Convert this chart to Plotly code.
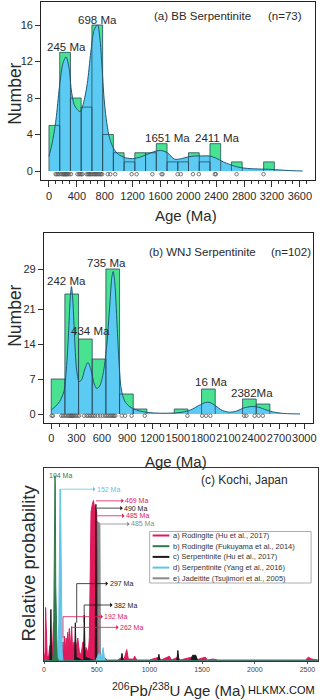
import plotly.graph_objects as go

# ---------------- data: panel (a) BB Serpentinite ----------------
a_bin_width = 154
a_counts = [5, 13, 8, 7, 16, 4, 2, 1, 2, 2, 3, 1, 1, 2, 1, 3, 0, 1, 0, 0, 1]
a_kde_age = [0, 50, 100, 150, 200, 245, 290, 320, 360, 410, 450, 500, 550, 600, 650, 698,
             730, 760, 790, 820, 860, 900, 950, 1000, 1100, 1200, 1300, 1400, 1500, 1600,
             1700, 1800, 1900, 2000, 2100, 2200, 2300, 2400, 2500, 2600, 2700, 2800, 2900,
             3000, 3100, 3200, 3300, 3400, 3500, 3640]
a_kde_val = [1.6, 3.2, 5.6, 9.2, 11.8, 12.5, 11.2, 8.9, 7.3, 6.7, 6.5, 7.6, 9.6, 13.0, 15.5, 16.0,
             14.6, 11.5, 8.0, 5.8, 3.9, 2.9, 2.2, 1.8, 1.45, 1.35, 1.5, 1.8, 2.1, 2.25,
             2.0, 1.3, 1.35, 1.55, 1.65, 1.65, 1.65, 1.4, 1.0, 0.7, 0.45, 0.32, 0.25,
             0.22, 0.2, 0.17, 0.12, 0.07, 0.03, 0.0]
a_ages = [95, 110, 130, 150, 175, 197, 210, 221, 233, 245, 256, 268, 290, 315, 409, 430, 447,
          465, 480, 541, 560, 574, 590, 607, 625, 645, 660, 675, 692, 710, 729, 745, 762, 842,
          880, 951, 1186, 1257, 1483, 1615, 1630, 1845, 1892, 2066, 2151, 2380, 2395, 2692, 3079]
a_peak_ages = [245, 698, 1651, 2411]
a_peak_text = ["245 Ma", "698 Ma", "1651 Ma", "2411 Ma"]
a_xticks = list(range(0, 3601, 400))
a_yticks = [0, 4, 8, 12, 16]

# ---------------- data: panel (b) WNJ Serpentinite ----------------
b_bin_width = 162
b_counts = [7, 24, 15, 11, 29, 4, 1, 0, 0, 1, 0, 5, 0, 0, 3, 2]
b_kde_age = [0, 50, 100, 150, 180, 205, 225, 240, 255, 275, 300, 330, 360, 395, 435, 475, 510,
             540, 575, 620, 660, 695, 720, 735, 755, 780, 805, 830, 870, 920, 980, 1050, 1150,
             1300, 1450, 1550, 1650, 1750, 1830, 1880, 1950, 2030, 2120, 2200, 2280, 2380,
             2460, 2550, 2650, 2750, 2850, 2950]
b_kde_val = [0.8, 1.5, 2.5, 4.5, 9.0, 16.0, 23.0, 25.5, 23.0, 16.0, 9.0, 6.5, 6.8, 8.8, 10.3, 8.6, 6.0,
             5.1, 5.6, 8.5, 14.0, 22.0, 27.5, 28.5, 26.0, 18.0, 10.0, 5.0, 2.6, 1.6, 1.0, 0.6, 0.3,
             0.15, 0.2, 0.35, 0.8, 1.7, 2.3, 2.3, 1.6, 0.7, 0.35, 0.6, 1.2, 1.5,
             1.35, 0.8, 0.35, 0.12, 0.04, 0.0]
b_ages = [5, 20, 120, 140, 160, 180, 200, 215, 230, 240, 250, 260, 275, 290, 310, 330, 390, 420,
          440, 460, 480, 500, 520, 550, 580, 610, 640, 660, 680, 700, 715, 730, 745, 760, 836,
          875, 953, 1109, 1614, 1789, 1836, 1886, 2287, 2314, 2411, 2458, 2508]
b_peak_ages = [242, 735, 434, 1866, 2382]
b_peak_text = ["242 Ma", "735 Ma", "434 Ma", "16 Ma", "2382Ma"]
b_xticks = list(range(0, 3001, 300))
b_yticks = [0, 7, 14, 21, 29]

# ---------------- data: panel (c) Kochi, Japan ----------------
c_names = ["a) Rodingite (Hu et al., 2017)",
           "b) Rodingite (Fukuyama et al., 2014)",
           "c) Serpentinite (Hu et al., 2017)",
           "d) Serpentinite (Yang et al., 2016)",
           "e) Jadeitite (Tsujimori et al., 2005)"]
red_age = [0, 10, 15, 22, 30, 45, 55, 60, 80, 90, 97, 110, 140, 170, 180, 186, 192, 200, 210, 218,
           225, 232, 240, 248, 255, 262, 270, 285, 300, 320, 335, 350, 370, 385, 400, 420, 430,
           440, 446, 458, 469, 480, 490, 500, 505, 512, 520, 560, 600, 700, 740, 760, 785, 800,
           850, 860, 880, 1000, 1090, 1110, 1190, 1210, 1270, 1290, 1400, 1440, 1530, 1550,
           1600, 1650, 2480, 2510, 2540, 2600]
red_val = [0, 0.05, 0.28, 0.05, 0.02, 0.03, 0.08, 0.02, 0.05, 0.2, 0.05, 0.02, 0.01, 0.03, 0.1, 0.03,
           0.13, 0.05, 0.12, 0.06, 0.15, 0.08, 0.17, 0.06, 0.1, 0.18, 0.07, 0.1, 0.05, 0.12, 0.05,
           0.03, 0.1, 0.03, 0.07, 0.04, 0.12, 0.45, 0.78, 0.82, 0.84, 0.8, 0.8, 0.78, 0.3, 0.04,
           0.01, 0.02, 0.005, 0.005, 0.02, 0.01, 0.06, 0.01, 0.01, 0.025, 0.005, 0.005, 0.02,
           0.005, 0.025, 0.005, 0.02, 0.005, 0.02, 0.005, 0.02, 0.005, 0.01, 0.005, 0.005, 0.02,
           0.01, 0.005]
green_age = [0, 80, 90, 97, 101, 104, 107, 111, 118, 125, 140, 2600]
green_val = [0, 0, 0.05, 0.4, 0.9, 0.97, 0.9, 0.4, 0.1, 0.02, 0, 0]
black_age = [0, 55, 60, 65, 70, 75, 290, 297, 305, 375, 382, 390, 486, 489, 492, 495, 499,
             730, 740, 750, 1080, 1090, 1100, 1260, 1270, 1280, 1390, 1410, 1440, 1460, 2600]
black_val = [0, 0, 0.1, 0.27, 0.1, 0, 0, 0.2, 0.02, 0, 0.24, 0.02, 0, 0.5, 0.82, 0.5, 0,
             0, 0.04, 0, 0, 0.035, 0, 0, 0.055, 0, 0, 0.03, 0.03, 0, 0]
blue_age = [0, 130, 140, 146, 152, 158, 164, 172, 180, 490, 520, 545, 560, 575, 590, 2600]
blue_val = [0, 0, 0.2, 0.8, 0.9, 0.8, 0.3, 0.05, 0, 0, 0.04, 0.02, 0.07, 0.01, 0, 0]
gray_age = [0, 498, 504, 530, 536, 2600]
gray_val = [0, 0, 0.73, 0.72, 0, 0]
c_xticks = list(range(0, 2501, 500))

# ---------------- styling ----------------
FONT = "Liberation Sans, Arial, sans-serif"
TXT = "#2a2a2a"
GREEN = "#48e290"
BLUE = "#5ccbf4"
KDE_LINE = "#1e5a78"
OUTLINE = "#2a4a5c"
RED = "#e01a5c"
DGREEN = "#2f7a4a"
BLACK = "#1a1a1a"
LBLUE = "#62c4ea"
GRAY = "#8a8a8a"

W, H = 322, 700


def px(xp):
    return xp / W


def py(yp):
    return 1 - yp / H


fig = go.Figure()


def hist_panel(counts, bw, kde_x, kde_y, ages, xa, ya):
    xs = [bw * (i + 0.5) for i, c in enumerate(counts) if c > 0]
    ys = [c for c in counts if c > 0]
    fig.add_trace(go.Bar(x=xs, y=ys, width=bw, marker=dict(color=GREEN, line=dict(width=0)),
                         xaxis=xa, yaxis=ya, showlegend=False, hoverinfo="skip"))
    fig.add_trace(go.Scatter(x=kde_x, y=kde_y, mode="lines", fill="tozeroy", fillcolor=BLUE,
                             line=dict(color=KDE_LINE, width=1, shape="spline", smoothing=0.8),
                             xaxis=xa, yaxis=ya, showlegend=False, hoverinfo="skip"))
    # bar outlines drawn on top of the density fill
    ox, oy = [], []
    for i, c in enumerate(counts):
        if c <= 0:
            continue
        x0, x1 = bw * i, bw * (i + 1)
        ox += [x0, x0, x1, x1, None]
        oy += [0, c, c, 0, None]
    fig.add_trace(go.Scatter(x=ox, y=oy, mode="lines", line=dict(color=OUTLINE, width=0.8),
                             xaxis=xa, yaxis=ya, showlegend=False, hoverinfo="skip"))
    fig.add_trace(go.Scatter(x=ages, y=[-0.35] * len(ages), mode="markers",
                             marker=dict(symbol="circle-open", size=3.5, color="#555",
                                         line=dict(width=0.8)),
                             xaxis=xa, yaxis=ya, showlegend=False, hoverinfo="skip"))


hist_panel(a_counts, a_bin_width, a_kde_age, a_kde_val, a_ages, "x", "y")
hist_panel(b_counts, b_bin_width, b_kde_age, b_kde_val, b_ages, "x2", "y2")

# panel (c) probability curves
for ages, vals, col in [(gray_age, gray_val, GRAY), (red_age, red_val, RED),
                        (black_age, black_val, BLACK), (blue_age, blue_val, LBLUE),
                        (green_age, green_val, DGREEN)]:
    fig.add_trace(go.Scatter(x=ages, y=vals, mode="lines", fill="tozeroy", fillcolor=col,
                             line=dict(color=col, width=1), xaxis="x3", yaxis="y3",
                             showlegend=False, hoverinfo="skip"))

axis_common = dict(showline=True, linecolor="#222", linewidth=1.4, mirror=True, showgrid=False,
                   zeroline=False, ticks="outside", tickcolor="#333", tickwidth=1,
                   tickfont=dict(family=FONT, size=11, color=TXT), tickangle=0)

layout = dict(
    width=W, height=H, autosize=False, margin=dict(l=0, r=0, t=0, b=0, pad=0),
    paper_bgcolor="white", plot_bgcolor="white", barmode="overlay", showlegend=False,
    font=dict(family=FONT, color=TXT),
    xaxis=dict(domain=[px(40), px(318)], range=[-109, 3818], anchor="y", tickmode="array",
               tickvals=a_xticks, ticklen=6,
               minor=dict(tickvals=list(range(0, 3701, 100)), ticks="outside", ticklen=3,
                          tickcolor="#333"),
               **axis_common),
    yaxis=dict(domain=[py(180), py(2)], range=[-0.986, 18.52], anchor="x", tickmode="array",
               tickvals=a_yticks, ticklen=5, **axis_common),
    xaxis2=dict(domain=[px(42.7), px(316)], range=[-85, 3104], anchor="y2", tickmode="array",
                tickvals=b_xticks, ticklen=5,
                minor=dict(tickvals=list(range(0, 3001, 100)), ticks="outside", ticklen=3,
                           tickcolor="#333"),
                **axis_common),
    yaxis2=dict(domain=[py(422.7), py(233)], range=[-1.74, 36.2], anchor="x2", tickmode="array",
                tickvals=b_yticks, ticklen=5, **axis_common),
    xaxis3=dict(domain=[px(42.7), px(321)], range=[0, 2600], anchor="y3", tickmode="array",
                tickvals=c_xticks, showline=True, linecolor="#333", linewidth=1, mirror=True,
                showgrid=False, zeroline=False, ticks="outside", ticklen=2, tickcolor="#555",
                tickfont=dict(family=FONT, size=7, color="#444"), tickangle=0),
    yaxis3=dict(domain=[py(661), py(468)], range=[0, 1.01], anchor="x3", showticklabels=False,
                showline=True, linecolor="#333", linewidth=1, mirror=True, showgrid=False,
                zeroline=False, ticks=""),
)
fig.update_layout(**layout)

ann = []
shapes = []


def ptext(text, x, y, size, color=TXT, xanchor="center", angle=0):
    ann.append(dict(text=text, x=px(x), y=py(y), xref="paper", yref="paper", showarrow=False,
                    xanchor=xanchor, yanchor="middle", textangle=angle,
                    font=dict(family=FONT, size=size, color=color)))


# axis titles
ptext("Number", 13, 94, 17.5, angle=-90)
ptext("Age (Ma)", 187, 215, 15)
ptext("Number", 13, 316, 17.5, angle=-90)
ptext("Age (Ma)", 177, 461, 15)
ptext("Relative probability", 26, 563, 18.5, angle=-90)
ptext("<sup>206</sup>Pb/<sup>238</sup>U Age (Ma)", 179, 689, 15)
ptext("HLKMX.COM", 284, 690, 11, color="#111")

# panel titles
ptext("(a) BB Serpentinite", 152, 16, 11.5, xanchor="left")
ptext("(n=73)", 307, 16, 11.5, xanchor="right")
ptext("(b) WNJ Serpentinite", 147, 252, 11.5, xanchor="left")
ptext("(n=102)", 316, 252, 11.5, xanchor="right")
ptext("(c) Kochi, Japan", 246, 480, 12)

# peak labels (a)
for t, xv, yv, sh in zip(a_peak_text, a_peak_ages, [13.6, 16.55, 3.6, 3.6], [0, 0, 3.4, 0.6]):
    ann.append(dict(text=t, x=xv, y=yv, xref="x", yref="y", showarrow=False, xshift=sh,
                    yanchor="middle", font=dict(family=FONT, size=11.5, color=TXT)))
# peak labels (b)
for t, xv, yv, sh in zip(b_peak_text, b_peak_ages, [26.7, 30.2, 16.7, 6.5, 4.2],
                         [-4.7, -7, 2.8, 3, 0]):
    ann.append(dict(text=t, x=xv, y=yv, xref="x2", yref="y2", showarrow=False, xshift=sh,
                    yanchor="middle", font=dict(family=FONT, size=11.5, color=TXT)))

# panel (c) peak annotations
ann.append(dict(text="104 Ma", x=152, y=0.97, xref="x3", yref="y3", showarrow=False,
                font=dict(family=FONT, size=7, color=DGREEN)))
c_arrows = [  # text, tail age, prob, text age, color
    ("152 Ma", 158, 0.899, 611, LBLUE),
    ("469 Ma", 492, 0.838, 880, RED),
    ("490 Ma", 500, 0.80, 870, BLACK),
    ("485 Ma", 505, 0.76, 887, RED),
    ("485 Ma", 535, 0.717, 936, GRAY),
    ("297 Ma", 310, 0.405, 731, BLACK),
    ("382 Ma", 381, 0.293, 773, BLACK),
    ("192 Ma", 180, 0.232, 682, RED),
    ("262 Ma", 262, 0.176, 831, RED),
]
for t, tx, pv, lx, col in c_arrows:
    ann.append(dict(text=t, x=tx, y=pv, xref="x3", yref="y3", ax=lx, ay=pv, axref="x3",
                    ayref="y3", showarrow=True, arrowside="start", arrowhead=2, arrowsize=0.7,
                    arrowwidth=0.8, arrowcolor=col, startstandoff=0,
                    font=dict(family=FONT, size=7, color=col)))
# elbow verticals
for xv, y0, y1, col in [(310, 0.2, 0.405, BLACK), (381, 0.2, 0.293, BLACK),
                        (180, 0.12, 0.232, RED), (158, 0.87, 0.899, LBLUE)]:
    shapes.append(dict(type="line", xref="x3", yref="y3", x0=xv, x1=xv, y0=y0, y1=y1,
                       line=dict(color=col, width=0.8)))

# manual legend for panel (c)
shapes.append(dict(type="rect", xref="paper", yref="paper", x0=px(150), x1=px(314),
                   y0=py(583), y1=py(531.5), line=dict(color="#999", width=0.8),
                   fillcolor="white"))
for i, (name, col) in enumerate(zip(c_names, [RED, DGREEN, BLACK, LBLUE, GRAY])):
    yy = 535.5 + i * 10.7
    shapes.append(dict(type="line", xref="paper", yref="paper", x0=px(153), x1=px(170),
                       y0=py(yy), y1=py(yy), line=dict(color=col, width=2)))
    ptext(name, 172, yy, 7.5, color="#333", xanchor="left")

fig.update_layout(annotations=ann, shapes=shapes)
fig.write_html("out.html")
